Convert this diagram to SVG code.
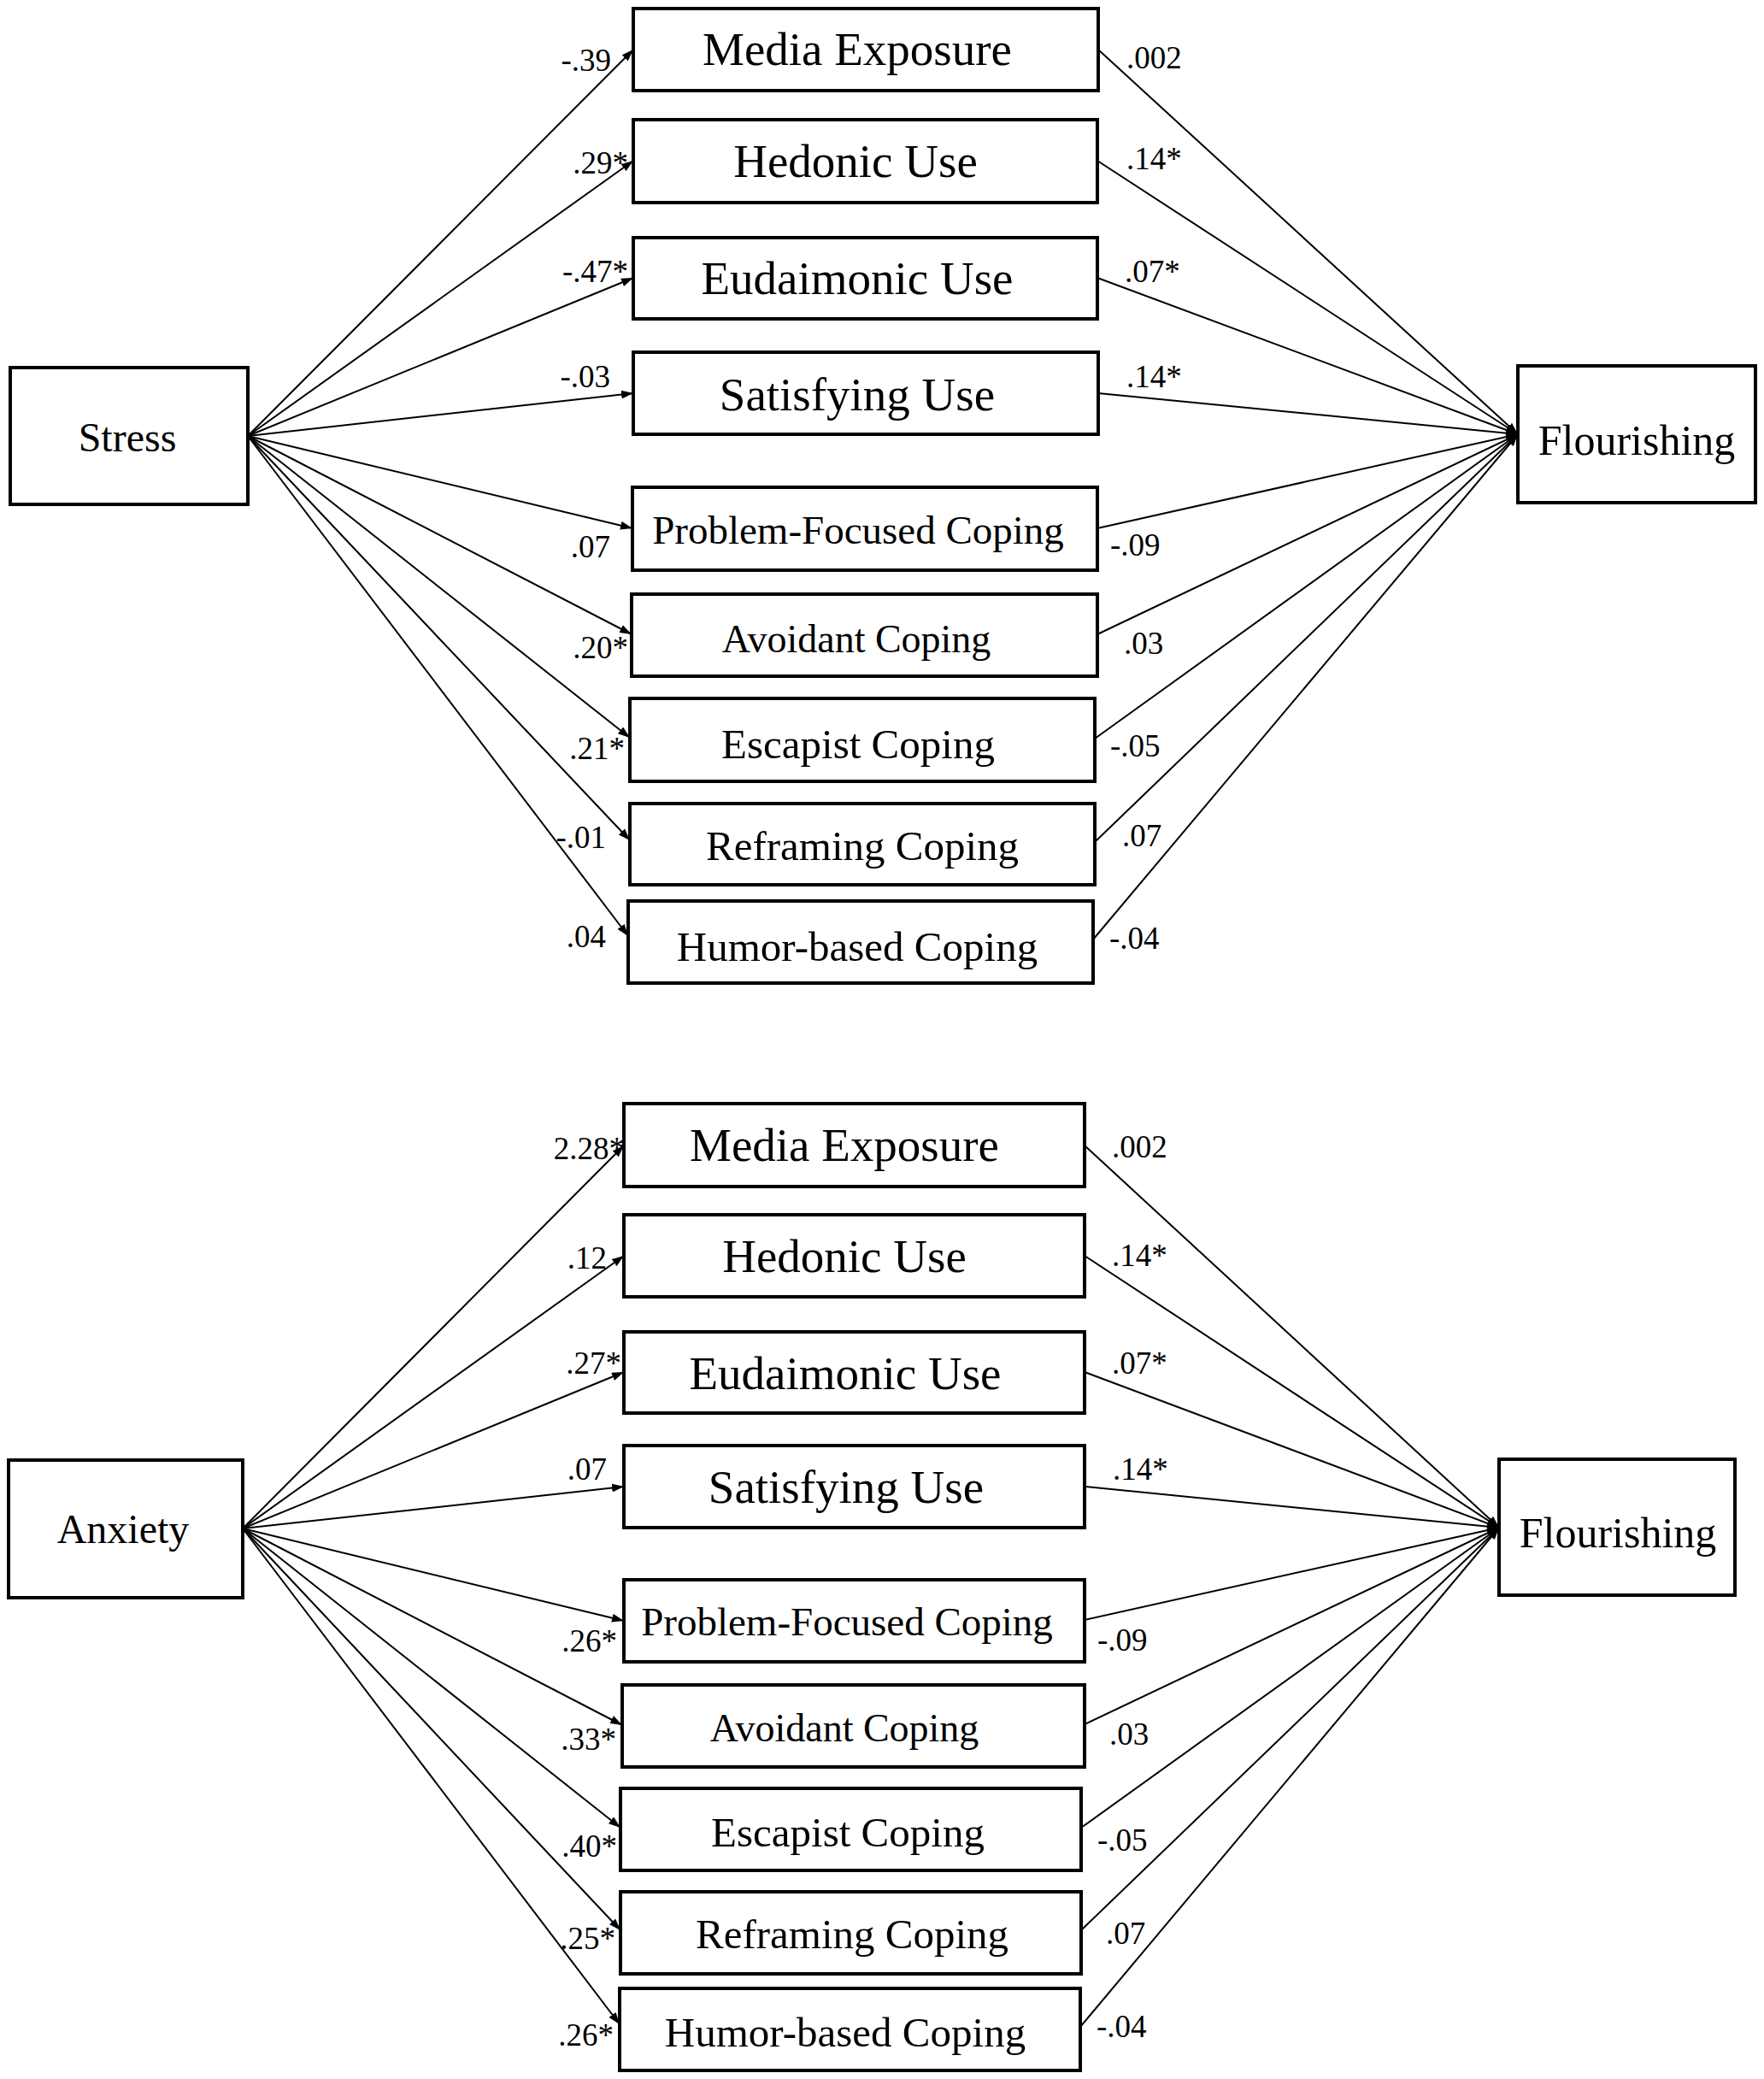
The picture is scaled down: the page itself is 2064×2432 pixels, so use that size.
<svg xmlns="http://www.w3.org/2000/svg" width="2064" height="2432" viewBox="0 0 2064 2432">
<style>
.box{fill:#fff;stroke:#000;stroke-width:4}
.t{font-family:"Liberation Serif","Times New Roman",serif;fill:#000;text-anchor:middle}
.t55{font-size:55px}
.t48{font-size:48px}
.t50{font-size:50px}
.lb{font-family:"Liberation Serif","Times New Roman",serif;font-size:37px;fill:#000}
.l{text-anchor:end}
.r{text-anchor:start}
.c line{stroke:#000;stroke-width:2;marker-end:url(#ah)}
</style>
<defs>
<marker id="ah" markerUnits="userSpaceOnUse" markerWidth="14" markerHeight="10" refX="14" refY="5" orient="auto">
<path d="M0,0 L14,5 L0,10 z" fill="#000"/>
</marker>
</defs>
<rect width="2064" height="2432" fill="#fff"/>

<g id="connectors" class="c">
<!-- top: Stress -> mediators -->
<line x1="290" y1="510" x2="741" y2="58"/>
<line x1="290" y1="510" x2="741" y2="188"/>
<line x1="290" y1="510" x2="741" y2="325"/>
<line x1="290" y1="510" x2="741" y2="460"/>
<line x1="290" y1="510" x2="740" y2="618"/>
<line x1="290" y1="510" x2="739" y2="742"/>
<line x1="290" y1="510" x2="737" y2="863"/>
<line x1="290" y1="510" x2="737" y2="983"/>
<line x1="290" y1="510" x2="735" y2="1095"/>
<!-- top: mediators -> Flourishing -->
<line x1="1285" y1="58" x2="1776" y2="508"/>
<line x1="1284" y1="188" x2="1776" y2="508"/>
<line x1="1284" y1="325" x2="1776" y2="508"/>
<line x1="1285" y1="460" x2="1776" y2="508"/>
<line x1="1284" y1="618" x2="1776" y2="508"/>
<line x1="1284" y1="742" x2="1776" y2="508"/>
<line x1="1281" y1="864" x2="1776" y2="508"/>
<line x1="1281" y1="985" x2="1776" y2="508"/>
<line x1="1279" y1="1099" x2="1776" y2="508"/>
<!-- bottom: Anxiety -> mediators -->
<line x1="284" y1="1788" x2="730" y2="1340"/>
<line x1="284" y1="1788" x2="730" y2="1469"/>
<line x1="284" y1="1788" x2="730" y2="1605"/>
<line x1="284" y1="1788" x2="730" y2="1739"/>
<line x1="284" y1="1788" x2="730" y2="1896"/>
<line x1="284" y1="1788" x2="728" y2="2018"/>
<line x1="284" y1="1788" x2="726" y2="2138"/>
<line x1="284" y1="1788" x2="726" y2="2258"/>
<line x1="284" y1="1788" x2="725" y2="2368"/>
<!-- bottom: mediators -> Flourishing -->
<line x1="1269" y1="1340" x2="1754" y2="1787"/>
<line x1="1269" y1="1469" x2="1754" y2="1787"/>
<line x1="1269" y1="1605" x2="1754" y2="1787"/>
<line x1="1269" y1="1739" x2="1754" y2="1787"/>
<line x1="1269" y1="1895" x2="1754" y2="1787"/>
<line x1="1269" y1="2017" x2="1754" y2="1787"/>
<line x1="1265" y1="2138" x2="1754" y2="1787"/>
<line x1="1265" y1="2258" x2="1754" y2="1787"/>
<line x1="1264" y1="2371" x2="1754" y2="1787"/>
</g>

<g id="labels">
<text class="lb l" x="715" y="83">-.39</text>
<text class="lb l" x="735" y="203">.29*</text>
<text class="lb l" x="735" y="330">-.47*</text>
<text class="lb l" x="714" y="453">-.03</text>
<text class="lb l" x="714" y="652">.07</text>
<text class="lb l" x="735" y="770">.20*</text>
<text class="lb l" x="731" y="888">.21*</text>
<text class="lb l" x="709" y="992">-.01</text>
<text class="lb l" x="709" y="1108">.04</text>
<text class="lb r" x="1318" y="80">.002</text>
<text class="lb r" x="1318" y="198">.14*</text>
<text class="lb r" x="1316" y="330">.07*</text>
<text class="lb r" x="1318" y="453">.14*</text>
<text class="lb r" x="1299" y="650">-.09</text>
<text class="lb r" x="1315" y="765">.03</text>
<text class="lb r" x="1299" y="885">-.05</text>
<text class="lb r" x="1313" y="990">.07</text>
<text class="lb r" x="1298" y="1110">-.04</text>

<text class="lb l" x="731" y="1356">2.28*</text>
<text class="lb l" x="710" y="1484">.12</text>
<text class="lb l" x="727" y="1607">.27*</text>
<text class="lb l" x="710" y="1731">.07</text>
<text class="lb l" x="722" y="1932">.26*</text>
<text class="lb l" x="721" y="2047">.33*</text>
<text class="lb l" x="722" y="2172">.40*</text>
<text class="lb l" x="720" y="2280">.25*</text>
<text class="lb l" x="718" y="2393">.26*</text>
<text class="lb r" x="1301" y="1354">.002</text>
<text class="lb r" x="1301" y="1481">.14*</text>
<text class="lb r" x="1301" y="1607">.07*</text>
<text class="lb r" x="1302" y="1731">.14*</text>
<text class="lb r" x="1284" y="1931">-.09</text>
<text class="lb r" x="1298" y="2041">.03</text>
<text class="lb r" x="1284" y="2165">-.05</text>
<text class="lb r" x="1294" y="2274">.07</text>
<text class="lb r" x="1283" y="2383">-.04</text>
</g>

<g id="stress"><rect class="box" x="12" y="430" width="278" height="160"/><text class="t t48" x="149" y="528">Stress</text></g>
<g id="flourishing-top"><rect class="box" x="1776" y="428" width="278" height="160"/><text class="t t50" x="1915" y="532">Flourishing</text></g>
<g id="media-top"><rect class="box" x="741" y="10" width="544" height="96"/><text class="t t55" x="1003" y="76">Media Exposure</text></g>
<g id="hedonic-top"><rect class="box" x="741" y="140" width="543" height="97"/><text class="t t55" x="1001" y="207">Hedonic Use</text></g>
<g id="eudaimonic-top"><rect class="box" x="741" y="278" width="543" height="95"/><text class="t t55" x="1003" y="344">Eudaimonic Use</text></g>
<g id="satisfying-top"><rect class="box" x="741" y="412" width="544" height="96"/><text class="t t55" x="1003" y="480">Satisfying Use</text></g>
<g id="problem-top"><rect class="box" x="740" y="570" width="544" height="97"/><text class="t" style="font-size:47px" x="1004" y="636">Problem-Focused Coping</text></g>
<g id="avoidant-top"><rect class="box" x="739" y="695" width="545" height="96"/><text class="t" style="font-size:46px" x="1002" y="763">Avoidant Coping</text></g>
<g id="escapist-top"><rect class="box" x="737" y="817" width="544" height="97"/><text class="t" style="font-size:49px" x="1004" y="887">Escapist Coping</text></g>
<g id="reframing-top"><rect class="box" x="737" y="940" width="544" height="95"/><text class="t" style="font-size:49px" x="1009" y="1006">Reframing Coping</text></g>
<g id="humor-top"><rect class="box" x="735" y="1054" width="544" height="96"/><text class="t" style="font-size:49px" x="1003" y="1124">Humor-based Coping</text></g>

<g id="anxiety"><rect class="box" x="10" y="1708" width="274" height="161"/><text class="t t48" x="144" y="1805">Anxiety</text></g>
<g id="flourishing-bottom"><rect class="box" x="1754" y="1707" width="276" height="159"/><text class="t t50" x="1893" y="1810">Flourishing</text></g>
<g id="media-bottom"><rect class="box" x="730" y="1291" width="539" height="97"/><text class="t t55" x="988" y="1358">Media Exposure</text></g>
<g id="hedonic-bottom"><rect class="box" x="730" y="1421" width="539" height="96"/><text class="t t55" x="988" y="1488">Hedonic Use</text></g>
<g id="eudaimonic-bottom"><rect class="box" x="730" y="1558" width="539" height="95"/><text class="t t55" x="989" y="1625">Eudaimonic Use</text></g>
<g id="satisfying-bottom"><rect class="box" x="730" y="1691" width="539" height="96"/><text class="t t55" x="990" y="1758">Satisfying Use</text></g>
<g id="problem-bottom"><rect class="box" x="730" y="1848" width="539" height="96"/><text class="t" style="font-size:47px" x="991" y="1913">Problem-Focused Coping</text></g>
<g id="avoidant-bottom"><rect class="box" x="728" y="1971" width="541" height="96"/><text class="t" style="font-size:46px" x="988" y="2037">Avoidant Coping</text></g>
<g id="escapist-bottom"><rect class="box" x="726" y="2092" width="539" height="96"/><text class="t" style="font-size:49px" x="992" y="2160">Escapist Coping</text></g>
<g id="reframing-bottom"><rect class="box" x="726" y="2213" width="539" height="96"/><text class="t" style="font-size:49px" x="997" y="2279">Reframing Coping</text></g>
<g id="humor-bottom"><rect class="box" x="725" y="2326" width="539" height="96"/><text class="t" style="font-size:49px" x="989" y="2394">Humor-based Coping</text></g>
</svg>
